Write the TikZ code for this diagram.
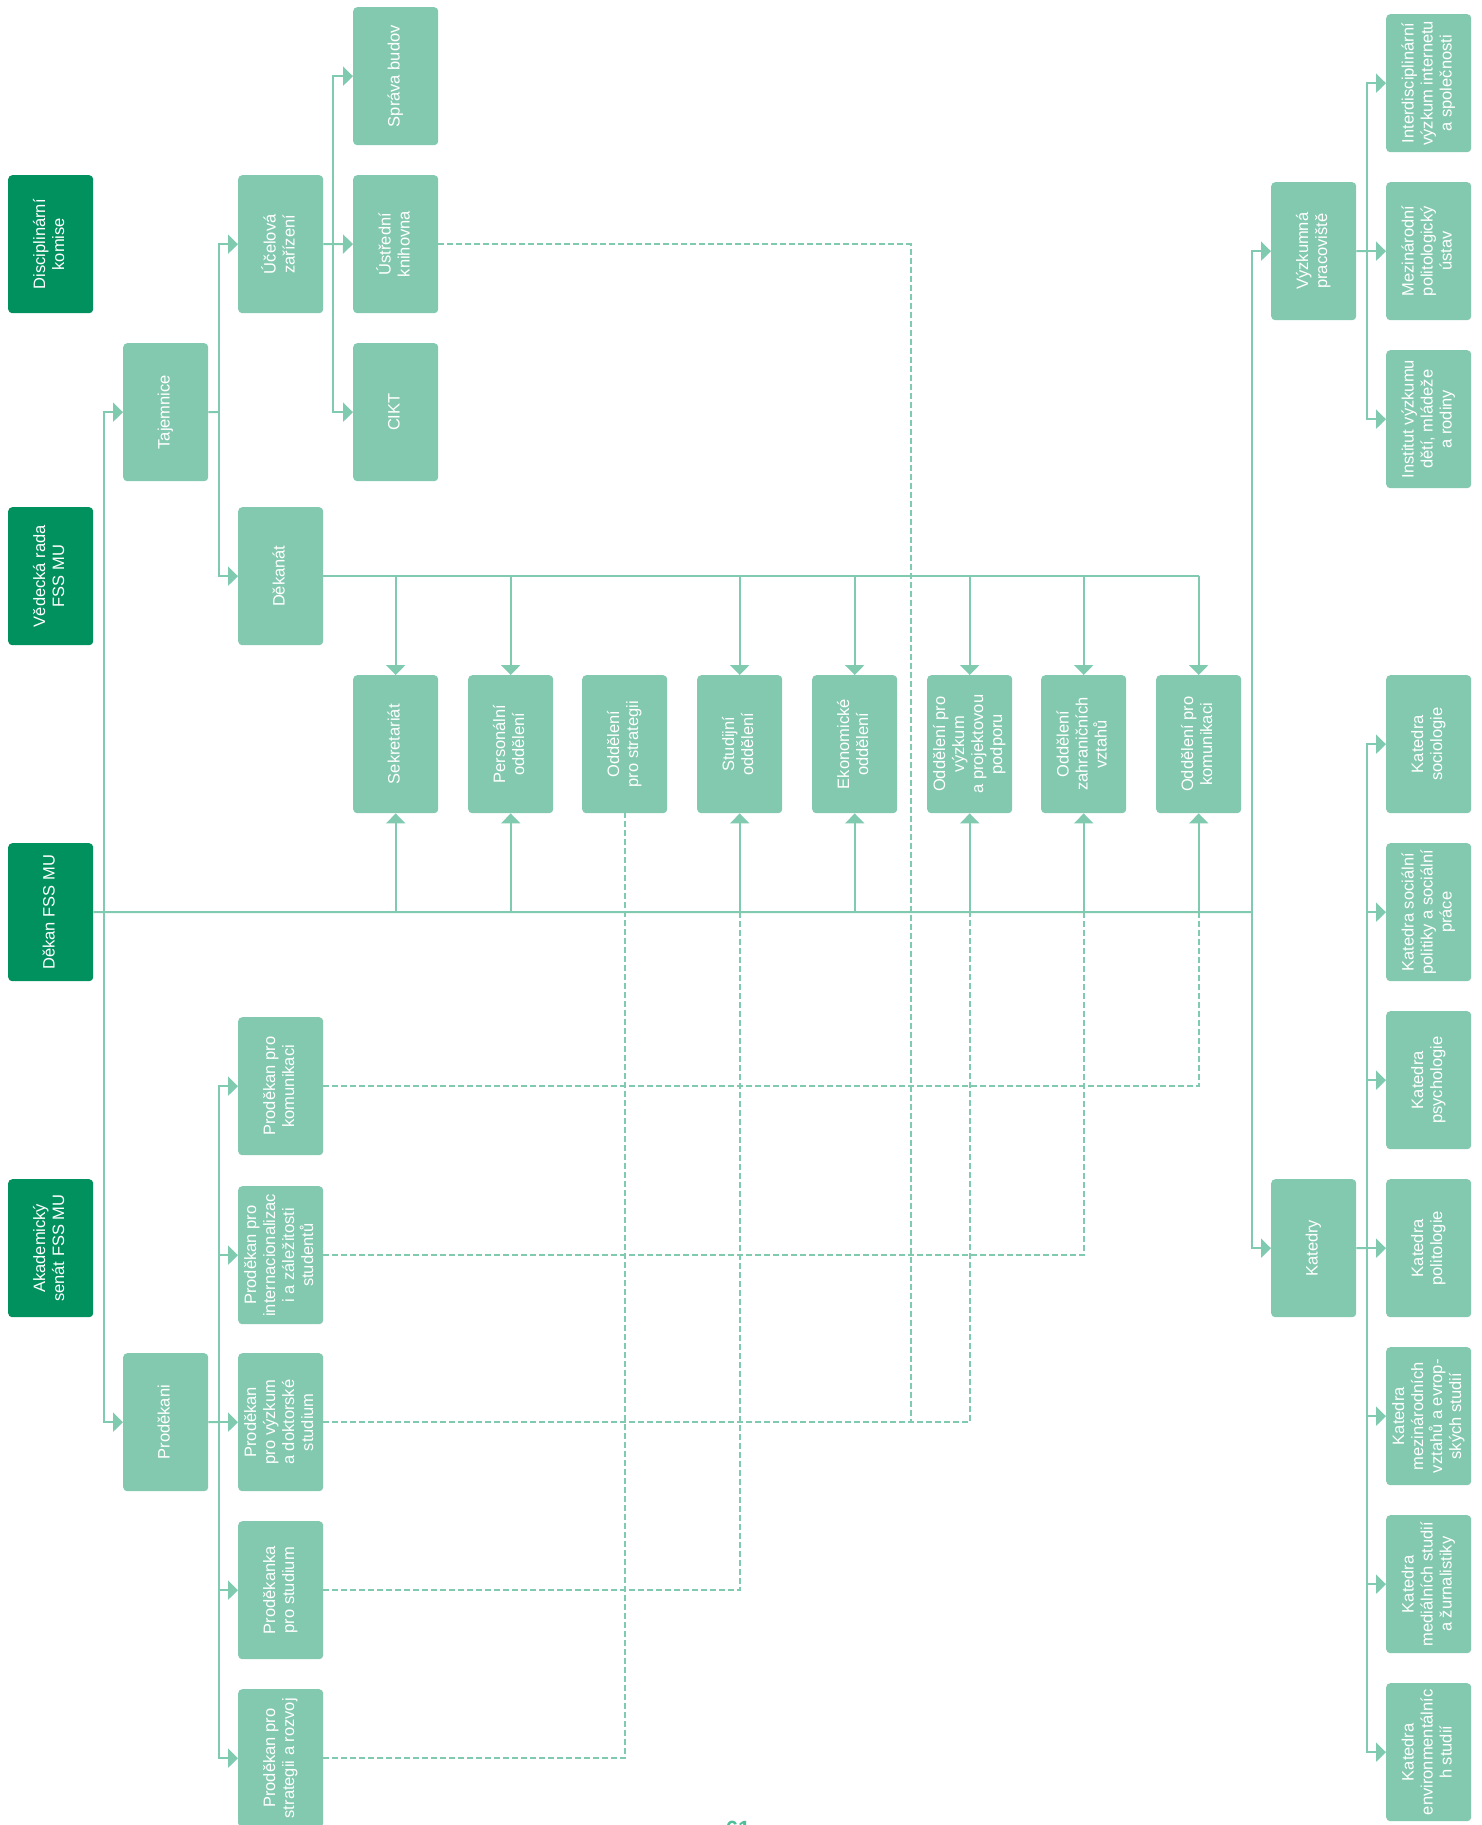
\documentclass[tikz,border=0pt]{standalone}
\usepackage{fontspec}
\setmainfont{Liberation Sans}
\usepackage{graphicx}
\usetikzlibrary{arrows.meta}
\definecolor{dgreen}{HTML}{00915F}
\definecolor{lgreen}{HTML}{83C9B0}
\definecolor{lline}{HTML}{80CBB0}
\definecolor{pnum}{HTML}{4FBF98}
\newcommand\boxfont{\fontsize{16.5}{19}\selectfont}
\newcommand\vtext[1]{\rotatebox{90}{\begin{tabular}{@{}c@{}}#1\end{tabular}}}
\begin{document}
\begin{tikzpicture}[x=1pt,y=-1pt,
  box/.style={fill=lgreen, rounded corners=4pt, minimum width=85pt, minimum height=138pt, inner sep=0pt, anchor=north west, text=white, font=\boxfont},
  dbox/.style={box, fill=dgreen},
  conn/.style={draw=lline, line width=2pt},
  arr/.style={conn, -{Triangle[length=10pt,width=19pt]}},
  dconn/.style={draw=lline, line width=2pt, dash pattern=on 6pt off 3pt},
]
\useasboundingbox[fill=white] (0,0) rectangle (1482,1825);

% dark column
\node[dbox] (dk1) at (8,175) {\vtext{Disciplinární\\komise}};
\node[dbox] (dk2) at (8,507) {\vtext{Vědecká rada\\FSS MU}};
\node[dbox] (dk3) at (8,843) {\vtext{Děkan FSS MU}};
\node[dbox] (dk4) at (8,1179) {\vtext{Akademický\\senát FSS MU}};

% column 1
\node[box] (taj) at (123,343) {\vtext{Tajemnice}};
\node[box] (prodekani) at (123,1353) {\vtext{Proděkani}};

% column 2
\node[box] (ucel) at (238,175) {\vtext{Účelová\\zařízení}};
\node[box] (dekanat) at (238,507) {\vtext{Děkanát}};
\node[box] (pkom) at (238,1017) {\vtext{Proděkan pro\\komunikaci}};
\node[box] (pint) at (238,1186) {\vtext{Proděkan pro\\internacionalizac\\i a záležitosti\\studentů}};
\node[box] (pvyz) at (238,1353) {\vtext{Proděkan\\pro výzkum\\a doktorské\\studium}};
\node[box] (pstud) at (238,1521) {\vtext{Proděkanka\\pro studium}};
\node[box] (pstrat) at (238,1689) {\vtext{Proděkan pro\\strategii a rozvoj}};

% column 3
\node[box] (sprava) at (353,7) {\vtext{Správa budov}};
\node[box] (knih) at (353,175) {\vtext{Ústřední\\knihovna}};
\node[box] (cikt) at (353,343) {\vtext{CIKT}};

% middle row
\node[box] (sekr) at (353,675) {\vtext{Sekretariát}};
\node[box] (pers) at (468,675) {\vtext{Personální\\oddělení}};
\node[box] (ostrat) at (582,675) {\vtext{Oddělení\\pro strategii}};
\node[box] (ostud) at (697,675) {\vtext{Studijní\\oddělení}};
\node[box] (oekon) at (812,675) {\vtext{Ekonomické\\oddělení}};
\node[box] (ovyz) at (927,675) {\vtext{Oddělení pro\\výzkum\\a projektovou\\podporu}};
\node[box] (ozahr) at (1041,675) {\vtext{Oddělení\\zahraničních\\vztahů}};
\node[box] (okom) at (1156,675) {\vtext{Oddělení pro\\komunikaci}};

% right side
\node[box] (vyzk) at (1271,182) {\vtext{Výzkumná\\pracoviště}};
\node[box] (katedry) at (1271,1179) {\vtext{Katedry}};
\node[box] (interd) at (1386,14) {\vtext{Interdisciplinární\\výzkum internetu\\a společnosti}};
\node[box] (mpu) at (1386,182) {\vtext{Mezinárodní\\politologický\\ústav}};
\node[box] (ivdmr) at (1386,350) {\vtext{Institut výzkumu\\dětí, mládeže\\a rodiny}};
\node[box] (k1) at (1386,675) {\vtext{Katedra\\sociologie}};
\node[box] (k2) at (1386,843) {\vtext{Katedra sociální\\politiky a sociální\\práce}};
\node[box] (k3) at (1386,1011) {\vtext{Katedra\\psychologie}};
\node[box] (k4) at (1386,1179) {\vtext{Katedra\\politologie}};
\node[box] (k5) at (1386,1347) {\vtext{Katedra\\mezinárodních\\vztahů a evrop-\\ských studií}};
\node[box] (k6) at (1386,1515) {\vtext{Katedra\\mediálních studií\\a žurnalistiky}};
\node[box] (k7) at (1386,1683) {\vtext{Katedra\\environmentálníc\\h studií}};

% page number fragment
\node[anchor=north, inner sep=0pt, text=pnum, font=\fontsize{22}{22}\selectfont\bfseries] (pagenum) at (738,1821) {61};

% junctions
\coordinate (jL) at (104,912);
\coordinate (jR) at (1252,912);
\coordinate (jT) at (219,412);
\coordinate (jU) at (333,244);
\coordinate (jP) at (219,1422);
\coordinate (jV) at (1367,251);
\coordinate (jK) at (1367,1248);
\coordinate (jD) at (911,1422);

% Dean line
\draw[conn] (dk3.east) -- (jR);
\draw[arr] (jL) |- (taj.west);
\draw[arr] (jL) |- (prodekani.west);
\draw[arr] (jR) |- (vyzk.west);
\draw[arr] (jR) |- (katedry.west);
\foreach \n in {sekr,pers,ostud,oekon,ovyz,ozahr,okom}
  \draw[arr] (\n.south |- dk3.east) -- (\n.south);

% Tajemnice
\draw[conn] (taj.east) -- (jT);
\draw[arr] (jT) |- (ucel.west);
\draw[arr] (jT) |- (dekanat.west);

% Ucelova zarizeni
\draw[conn] (ucel.east) -- (jU);
\draw[arr] (jU) |- (sprava.west);
\draw[arr] (jU) -- (knih.west);
\draw[arr] (jU) |- (cikt.west);

% Dekanat
\draw[conn] (dekanat.east) -- (dekanat.east -| okom.north);
\foreach \n in {sekr,pers,ostud,oekon,ovyz,ozahr,okom}
  \draw[arr] (dekanat.east -| \n.north) -- (\n.north);

% Prodekani
\draw[conn] (prodekani.east) -- (jP);
\foreach \n in {pkom,pint,pvyz,pstud,pstrat}
  \draw[arr] (jP) |- (\n.west);

% Vyzkumna pracoviste
\draw[conn] (vyzk.east) -- (jV);
\foreach \n in {interd,mpu,ivdmr}
  \draw[arr] (jV) |- (\n.west);

% Katedry
\draw[conn] (katedry.east) -- (jK);
\foreach \n in {k1,k2,k3,k4,k5,k6,k7}
  \draw[arr] (jK) |- (\n.west);

% dashed links
\draw[dconn] (knih.east) -| (jD);
\draw[dconn] (pvyz.east) -| (ovyz.south |- dk3.east);
\draw[dconn] (pkom.east) -| (okom.south |- dk3.east);
\draw[dconn] (pint.east) -| (ozahr.south |- dk3.east);
\draw[dconn] (pstud.east) -| (ostud.south |- dk3.east);
\draw[dconn] (pstrat.east) -| (ostrat.south);
\end{tikzpicture}
\end{document}
